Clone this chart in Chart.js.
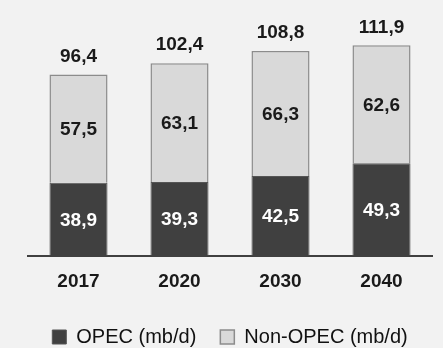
<!DOCTYPE html>
<html>
<head>
<meta charset="utf-8">
<script src="https://cdn.jsdelivr.net/npm/chart.js@4"></script>
<style>
  html, body { margin: 0; padding: 0; background: #f2f2f2; }
  #wrap { width: 443px; height: 348px; }
</style>
</head>
<body>
<div id="wrap"><canvas id="chart" width="443" height="348"></canvas></div>
<script>
const years = ["2017", "2020", "2030", "2040"];
const opec = [38.9, 39.3, 42.5, 49.3];
const nonOpec = [57.5, 63.1, 66.3, 62.6];

const FONT = "'Liberation Sans', Arial, sans-serif";

function formatValue(value) {
  return value.toFixed(1).replace(".", ",");
}

// draws the value labels inside each segment and the totals above the stacks
const labelPlugin = {
  id: "barLabels",
  afterDatasetsDraw(chart) {
    const ctx = chart.ctx;
    ctx.save();
    ctx.textAlign = "center";
    ctx.textBaseline = "middle";
    ctx.font = "bold 19px " + FONT;

    chart.data.datasets.forEach((dataset, di) => {
      const meta = chart.getDatasetMeta(di);
      meta.data.forEach((bar, i) => {
        ctx.fillStyle = di === 0 ? "#ffffff" : "#1a1a1a";
        ctx.fillText(formatValue(dataset.data[i]), bar.x, (bar.y + bar.base) / 2 + 1);
      });
    });

    const topMeta = chart.getDatasetMeta(chart.data.datasets.length - 1);
    topMeta.data.forEach((bar, i) => {
      const total = opec[i] + nonOpec[i];
      ctx.fillStyle = "#1a1a1a";
      ctx.fillText(formatValue(total), bar.x, bar.y - 18);
    });
    ctx.restore();
  }
};

new Chart(document.getElementById("chart"), {
  type: "bar",
  data: {
    labels: years,
    datasets: [
      {
        label: "OPEC (mb/d)",
        data: opec,
        backgroundColor: "#404040",
        borderColor: "#555555",
        borderWidth: 1,
        barPercentage: 0.575,
        categoryPercentage: 1
      },
      {
        label: "Non-OPEC (mb/d)",
        data: nonOpec,
        backgroundColor: "#d9d9d9",
        borderColor: "#8c8c8c",
        borderWidth: 1.5,
        barPercentage: 0.575,
        categoryPercentage: 1
      }
    ]
  },
  options: {
    responsive: false,
    animation: false,
    layout: {
      padding: { top: 30, left: 28, right: 11, bottom: -9 }
    },
    plugins: {
      tooltip: { enabled: false },
      legend: {
        position: "bottom",
        labels: {
          color: "#111111",
          font: { family: FONT, size: 20 },
          boxWidth: 14,
          boxHeight: 14,
          padding: 24
        }
      }
    },
    scales: {
      x: {
        stacked: true,
        grid: { display: false, drawTicks: false },
        border: { display: true, color: "#404040", width: 2 },
        ticks: {
          padding: 14,
          color: "#1a1a1a",
          font: { family: FONT, size: 19, weight: "bold" }
        },
        afterFit(scale) {
          scale.height -= 4;
        }
      },
      y: {
        stacked: true,
        display: false,
        min: 0,
        max: 120
      }
    }
  },
  plugins: [labelPlugin]
});
</script>
</body>
</html>
